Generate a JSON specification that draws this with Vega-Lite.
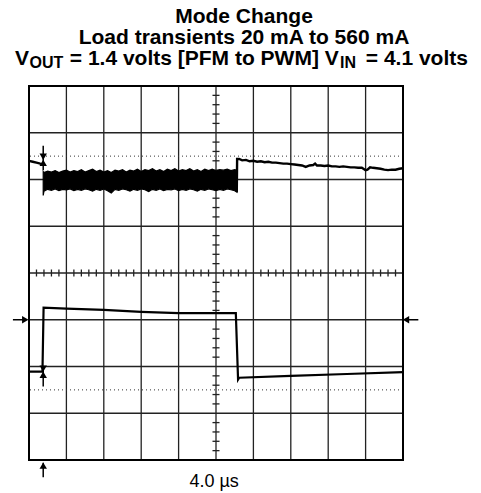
{
  "$schema": "https://vega.github.io/schema/vega-lite/v6.json",
  "width": 374,
  "height": 374,
  "autosize": {"type": "none"},
  "padding": {"left": 29, "top": 86, "right": 78, "bottom": 33},
  "background": "white",
  "config": {"view": {"stroke": null}},
  "datasets": {
    "vgrid": [{"x":1},{"x":2},{"x":3},{"x":4},{"x":5},{"x":6},{"x":7},{"x":8},{"x":9}],
    "hgrid": [{"y":1},{"y":2},{"y":3},{"y":4},{"y":5},{"y":6},{"y":7}],
    "xticks": [{"x":0.2},{"x":0.4},{"x":0.6},{"x":0.8},{"x":1.2},{"x":1.4},{"x":1.6},{"x":1.8},{"x":2.2},{"x":2.4},{"x":2.6},{"x":2.8},{"x":3.2},{"x":3.4},{"x":3.6},{"x":3.8},{"x":4.2},{"x":4.4},{"x":4.6},{"x":4.8},{"x":5.2},{"x":5.4},{"x":5.6},{"x":5.8},{"x":6.2},{"x":6.4},{"x":6.6},{"x":6.8},{"x":7.2},{"x":7.4},{"x":7.6},{"x":7.8},{"x":8.2},{"x":8.4},{"x":8.6},{"x":8.8},{"x":9.2},{"x":9.4},{"x":9.6},{"x":9.8}],
    "yticks": [{"y":0.2},{"y":0.4},{"y":0.6},{"y":0.8},{"y":1.2},{"y":1.4},{"y":1.6},{"y":1.8},{"y":2.2},{"y":2.4},{"y":2.6},{"y":2.8},{"y":3.2},{"y":3.4},{"y":3.6},{"y":3.8},{"y":4.2},{"y":4.4},{"y":4.6},{"y":4.8},{"y":5.2},{"y":5.4},{"y":5.6},{"y":5.8},{"y":6.2},{"y":6.4},{"y":6.6},{"y":6.8},{"y":7.2},{"y":7.4},{"y":7.6},{"y":7.8}],
    "frame": [{"x":0,"x2":10,"y":0,"y2":8}],
    "dotted": [{"y":1.5},{"y":6.5}],
    "band": [
      {"x":0.38,"hi":6.17,"lo":5.66},{"x":0.40,"hi":6.15,"lo":5.75},{"x":0.5,"hi":6.18,"lo":5.79},{"x":0.6,"hi":6.16,"lo":5.77},
      {"x":0.7,"hi":6.19,"lo":5.80},{"x":0.8,"hi":6.15,"lo":5.76},{"x":0.9,"hi":6.18,"lo":5.79},{"x":1.0,"hi":6.20,"lo":5.78},
      {"x":1.1,"hi":6.16,"lo":5.80},{"x":1.2,"hi":6.19,"lo":5.76},{"x":1.3,"hi":6.17,"lo":5.79},{"x":1.4,"hi":6.21,"lo":5.77},
      {"x":1.5,"hi":6.16,"lo":5.80},{"x":1.6,"hi":6.19,"lo":5.78},{"x":1.7,"hi":6.22,"lo":5.75},{"x":1.8,"hi":6.17,"lo":5.79},
      {"x":1.9,"hi":6.20,"lo":5.77},{"x":2.0,"hi":6.16,"lo":5.80},{"x":2.1,"hi":6.19,"lo":5.76},{"x":2.2,"hi":6.15,"lo":5.71},
      {"x":2.3,"hi":6.20,"lo":5.79},{"x":2.4,"hi":6.18,"lo":5.77},{"x":2.5,"hi":6.21,"lo":5.80},{"x":2.6,"hi":6.16,"lo":5.78},
      {"x":2.7,"hi":6.20,"lo":5.75},{"x":2.8,"hi":6.18,"lo":5.79},{"x":2.9,"hi":6.22,"lo":5.77},{"x":3.0,"hi":6.17,"lo":5.80},
      {"x":3.1,"hi":6.21,"lo":5.78},{"x":3.2,"hi":6.19,"lo":5.74},{"x":3.3,"hi":6.23,"lo":5.79},{"x":3.4,"hi":6.18,"lo":5.77},
      {"x":3.5,"hi":6.21,"lo":5.80},{"x":3.6,"hi":6.17,"lo":5.76},{"x":3.7,"hi":6.22,"lo":5.79},{"x":3.8,"hi":6.19,"lo":5.78},
      {"x":3.9,"hi":6.23,"lo":5.80},{"x":4.0,"hi":6.18,"lo":5.76},{"x":4.1,"hi":6.21,"lo":5.79},{"x":4.2,"hi":6.19,"lo":5.77},
      {"x":4.3,"hi":6.23,"lo":5.80},{"x":4.4,"hi":6.18,"lo":5.78},{"x":4.5,"hi":6.21,"lo":5.75},{"x":4.6,"hi":6.17,"lo":5.79},
      {"x":4.7,"hi":6.22,"lo":5.77},{"x":4.8,"hi":6.19,"lo":5.80},{"x":4.9,"hi":6.22,"lo":5.78},{"x":5.0,"hi":6.18,"lo":5.76},
      {"x":5.1,"hi":6.21,"lo":5.79},{"x":5.2,"hi":6.20,"lo":5.77},{"x":5.3,"hi":6.22,"lo":5.80},{"x":5.4,"hi":6.19,"lo":5.78},
      {"x":5.5,"hi":6.21,"lo":5.76},{"x":5.56,"hi":6.20,"lo":5.73}
    ],
    "vout": [
      {"seg":"pre","x":0,"y":6.40},{"seg":"pre","x":0.1,"y":6.38},{"seg":"pre","x":0.2,"y":6.36},{"seg":"pre","x":0.3,"y":6.34},{"seg":"pre","x":0.36,"y":6.33},
      {"seg":"post","x":5.555,"y":5.73},{"seg":"post","x":5.565,"y":6.44},{"seg":"post","x":5.62,"y":6.44},{"seg":"post","x":5.7,"y":6.41},
      {"seg":"post","x":5.8,"y":6.42},{"seg":"post","x":5.9,"y":6.39},{"seg":"post","x":6.0,"y":6.40},{"seg":"post","x":6.1,"y":6.38},
      {"seg":"post","x":6.2,"y":6.39},{"seg":"post","x":6.3,"y":6.37},{"seg":"post","x":6.4,"y":6.38},{"seg":"post","x":6.5,"y":6.36},
      {"seg":"post","x":6.6,"y":6.36},{"seg":"post","x":6.7,"y":6.35},{"seg":"post","x":6.8,"y":6.34},{"seg":"post","x":6.9,"y":6.34},
      {"seg":"post","x":7.0,"y":6.33},{"seg":"post","x":7.1,"y":6.32},{"seg":"post","x":7.2,"y":6.31},{"seg":"post","x":7.3,"y":6.30},
      {"seg":"post","x":7.4,"y":6.27},{"seg":"post","x":7.5,"y":6.30},{"seg":"post","x":7.6,"y":6.31},{"seg":"post","x":7.65,"y":6.34},
      {"seg":"post","x":7.7,"y":6.30},{"seg":"post","x":7.8,"y":6.30},{"seg":"post","x":7.9,"y":6.29},{"seg":"post","x":8.0,"y":6.30},
      {"seg":"post","x":8.1,"y":6.28},{"seg":"post","x":8.2,"y":6.28},{"seg":"post","x":8.3,"y":6.27},{"seg":"post","x":8.4,"y":6.28},
      {"seg":"post","x":8.5,"y":6.27},{"seg":"post","x":8.6,"y":6.26},{"seg":"post","x":8.7,"y":6.26},{"seg":"post","x":8.8,"y":6.25},
      {"seg":"post","x":8.9,"y":6.25},{"seg":"post","x":9.0,"y":6.20},{"seg":"post","x":9.05,"y":6.21},{"seg":"post","x":9.12,"y":6.26},
      {"seg":"post","x":9.2,"y":6.25},{"seg":"post","x":9.3,"y":6.24},{"seg":"post","x":9.4,"y":6.23},{"seg":"post","x":9.5,"y":6.21},
      {"seg":"post","x":9.6,"y":6.20},{"seg":"post","x":9.7,"y":6.21},{"seg":"post","x":9.8,"y":6.21},{"seg":"post","x":9.9,"y":6.23},
      {"seg":"post","x":10,"y":6.24}
    ],
    "iout": [
      {"x":0,"y":1.89},{"x":0.36,"y":1.89},{"x":0.39,"y":3.26},{"x":1.0,"y":3.24},{"x":2.0,"y":3.21},{"x":3.0,"y":3.17},
      {"x":4.0,"y":3.14},{"x":5.53,"y":3.14},{"x":5.59,"y":1.72},{"x":5.62,"y":1.76},{"x":7.0,"y":1.80},{"x":8.5,"y":1.84},{"x":10,"y":1.88}
    ],
    "marklines": [
      {"x":0.38,"x2":0.38,"y":6.72,"y2":6.2},
      {"x":0.38,"x2":0.38,"y":2.0,"y2":1.57},
      {"x":0.38,"x2":0.38,"y":-0.06,"y2":-0.37},
      {"x":-0.43,"x2":-0.1,"y":3,"y2":3},
      {"x":10.1,"x2":10.41,"y":3,"y2":3}
    ],
    "tridown": [{"x":0.38,"y":6.485},{"x":0.38,"y":1.955}],
    "triup": [{"x":0.38,"y":6.355},{"x":0.38,"y":1.825},{"x":0.38,"y":-0.12}],
    "triright": [{"x":-0.099,"y":3}],
    "trileft": [{"x":10.08,"y":3}],
    "titles": [
      {"t":"Mode Change","x":5.749,"y":9.348},
      {"t":"Load transients 20 mA to 560 mA","x":5.749,"y":8.898}
    ],
    "line3": [
      {"t":"V","x":-0.374,"y":8.449},
      {"t":"= 1.4 volts [PFM to PWM] V","x":1.091,"y":8.449},
      {"t":"= 4.1 volts","x":9.005,"y":8.449}
    ],
    "line3sub": [
      {"t":"OUT","x":0.013,"y":8.385},
      {"t":"IN","x":8.316,"y":8.385}
    ],
    "xlabel": [{"t":"4.0 µs","x":4.95,"y":-0.57}]
  },
  "layer": [
    {
      "data": {"name": "vgrid"},
      "mark": {"type": "rule", "color": "#222", "strokeWidth": 1.3},
      "encoding": {
        "x": {"field": "x", "type": "quantitative", "scale": {"domain": [0, 10], "nice": false, "zero": false}, "axis": null}
      }
    },
    {
      "data": {"name": "hgrid"},
      "mark": {"type": "rule", "color": "#222", "strokeWidth": 1.3},
      "encoding": {
        "y": {"field": "y", "type": "quantitative", "scale": {"domain": [0, 8], "nice": false, "zero": false}, "axis": null}
      }
    },
    {
      "data": {"name": "xticks"},
      "mark": {"type": "rule", "color": "#222", "strokeWidth": 1.3},
      "encoding": {
        "x": {"field": "x", "type": "quantitative", "scale": {"domain": [0, 10], "nice": false, "zero": false}, "axis": null},
        "y": {"datum": 4.075, "type": "quantitative", "scale": {"domain": [0, 8], "nice": false, "zero": false}, "axis": null},
        "y2": {"datum": 3.925}
      }
    },
    {
      "data": {"name": "yticks"},
      "mark": {"type": "rule", "color": "#222", "strokeWidth": 1.3},
      "encoding": {
        "y": {"field": "y", "type": "quantitative", "scale": {"domain": [0, 8], "nice": false, "zero": false}, "axis": null},
        "x": {"datum": 4.906, "type": "quantitative", "scale": {"domain": [0, 10], "nice": false, "zero": false}, "axis": null},
        "x2": {"datum": 5.094}
      }
    },
    {
      "data": {"name": "dotted"},
      "mark": {"type": "rule", "color": "#333", "strokeWidth": 1, "strokeDash": [1, 3]},
      "encoding": {
        "y": {"field": "y", "type": "quantitative", "scale": {"domain": [0, 8], "nice": false, "zero": false}, "axis": null}
      }
    },
    {
      "data": {"name": "frame"},
      "mark": {"type": "rect", "fill": null, "stroke": "black", "strokeWidth": 2},
      "encoding": {
        "x": {"field": "x", "type": "quantitative", "scale": {"domain": [0, 10], "nice": false, "zero": false}, "axis": null},
        "x2": {"field": "x2"},
        "y": {"field": "y", "type": "quantitative", "scale": {"domain": [0, 8], "nice": false, "zero": false}, "axis": null},
        "y2": {"field": "y2"}
      }
    },
    {
      "data": {"name": "band"},
      "mark": {"type": "area", "color": "black", "stroke": "black", "strokeWidth": 1.2},
      "encoding": {
        "x": {"field": "x", "type": "quantitative", "scale": {"domain": [0, 10], "nice": false, "zero": false}, "axis": null},
        "y": {"field": "hi", "type": "quantitative", "scale": {"domain": [0, 8], "nice": false, "zero": false}, "axis": null},
        "y2": {"field": "lo"}
      }
    },
    {
      "data": {"name": "vout"},
      "mark": {"type": "line", "color": "black", "strokeWidth": 2.4},
      "encoding": {
        "x": {"field": "x", "type": "quantitative", "scale": {"domain": [0, 10], "nice": false, "zero": false}, "axis": null},
        "y": {"field": "y", "type": "quantitative", "scale": {"domain": [0, 8], "nice": false, "zero": false}, "axis": null},
        "detail": {"field": "seg", "type": "nominal"},
        "order": {"value": null}
      }
    },
    {
      "data": {"name": "iout"},
      "mark": {"type": "line", "color": "black", "strokeWidth": 2.2},
      "encoding": {
        "x": {"field": "x", "type": "quantitative", "scale": {"domain": [0, 10], "nice": false, "zero": false}, "axis": null},
        "y": {"field": "y", "type": "quantitative", "scale": {"domain": [0, 8], "nice": false, "zero": false}, "axis": null},
        "order": {"value": null}
      }
    },
    {
      "data": {"name": "marklines"},
      "mark": {"type": "rule", "color": "black", "strokeWidth": 1.5},
      "encoding": {
        "x": {"field": "x", "type": "quantitative", "scale": {"domain": [0, 10], "nice": false, "zero": false}, "axis": null},
        "x2": {"field": "x2"},
        "y": {"field": "y", "type": "quantitative", "scale": {"domain": [0, 8], "nice": false, "zero": false}, "axis": null},
        "y2": {"field": "y2"}
      }
    },
    {
      "data": {"name": "tridown"},
      "mark": {"type": "point", "shape": "triangle-down", "filled": true, "color": "black", "size": 55, "opacity": 1},
      "encoding": {
        "x": {"field": "x", "type": "quantitative", "scale": {"domain": [0, 10], "nice": false, "zero": false}, "axis": null},
        "y": {"field": "y", "type": "quantitative", "scale": {"domain": [0, 8], "nice": false, "zero": false}, "axis": null}
      }
    },
    {
      "data": {"name": "triup"},
      "mark": {"type": "point", "shape": "triangle-up", "filled": true, "color": "black", "size": 55, "opacity": 1},
      "encoding": {
        "x": {"field": "x", "type": "quantitative", "scale": {"domain": [0, 10], "nice": false, "zero": false}, "axis": null},
        "y": {"field": "y", "type": "quantitative", "scale": {"domain": [0, 8], "nice": false, "zero": false}, "axis": null}
      }
    },
    {
      "data": {"name": "triright"},
      "mark": {"type": "point", "shape": "triangle-right", "filled": true, "color": "black", "size": 55, "opacity": 1},
      "encoding": {
        "x": {"field": "x", "type": "quantitative", "scale": {"domain": [0, 10], "nice": false, "zero": false}, "axis": null},
        "y": {"field": "y", "type": "quantitative", "scale": {"domain": [0, 8], "nice": false, "zero": false}, "axis": null}
      }
    },
    {
      "data": {"name": "trileft"},
      "mark": {"type": "point", "shape": "triangle-left", "filled": true, "color": "black", "size": 55, "opacity": 1},
      "encoding": {
        "x": {"field": "x", "type": "quantitative", "scale": {"domain": [0, 10], "nice": false, "zero": false}, "axis": null},
        "y": {"field": "y", "type": "quantitative", "scale": {"domain": [0, 8], "nice": false, "zero": false}, "axis": null}
      }
    },
    {
      "data": {"name": "titles"},
      "mark": {"type": "text", "font": "Liberation Sans", "fontSize": 21, "fontWeight": "bold", "color": "black", "align": "center", "baseline": "alphabetic"},
      "encoding": {
        "x": {"field": "x", "type": "quantitative", "scale": {"domain": [0, 10], "nice": false, "zero": false}, "axis": null},
        "y": {"field": "y", "type": "quantitative", "scale": {"domain": [0, 8], "nice": false, "zero": false}, "axis": null},
        "text": {"field": "t"}
      }
    },
    {
      "data": {"name": "line3"},
      "mark": {"type": "text", "font": "Liberation Sans", "fontSize": 21, "fontWeight": "bold", "color": "black", "align": "left", "baseline": "alphabetic"},
      "encoding": {
        "x": {"field": "x", "type": "quantitative", "scale": {"domain": [0, 10], "nice": false, "zero": false}, "axis": null},
        "y": {"field": "y", "type": "quantitative", "scale": {"domain": [0, 8], "nice": false, "zero": false}, "axis": null},
        "text": {"field": "t"}
      }
    },
    {
      "data": {"name": "line3sub"},
      "mark": {"type": "text", "font": "Liberation Sans", "fontSize": 16, "fontWeight": "bold", "color": "black", "align": "left", "baseline": "alphabetic"},
      "encoding": {
        "x": {"field": "x", "type": "quantitative", "scale": {"domain": [0, 10], "nice": false, "zero": false}, "axis": null},
        "y": {"field": "y", "type": "quantitative", "scale": {"domain": [0, 8], "nice": false, "zero": false}, "axis": null},
        "text": {"field": "t"}
      }
    },
    {
      "data": {"name": "xlabel"},
      "mark": {"type": "text", "font": "Liberation Sans", "fontSize": 18, "color": "black", "align": "center", "baseline": "alphabetic"},
      "encoding": {
        "x": {"field": "x", "type": "quantitative", "scale": {"domain": [0, 10], "nice": false, "zero": false}, "axis": null},
        "y": {"field": "y", "type": "quantitative", "scale": {"domain": [0, 8], "nice": false, "zero": false}, "axis": null},
        "text": {"field": "t"}
      }
    }
  ]
}
